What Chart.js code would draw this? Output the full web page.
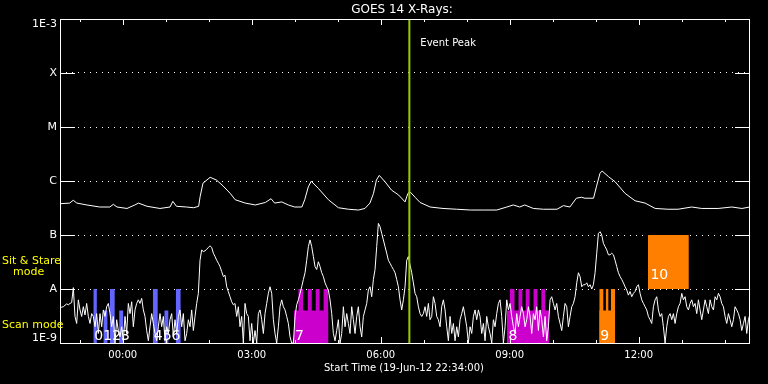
<!DOCTYPE html>
<html>
<head>
<meta charset="utf-8">
<title>GOES 14 X-Rays</title>
<script src="https://cdn.jsdelivr.net/npm/chart.js@4.4.1/dist/chart.umd.min.js"></script>
<style>
  html, body { margin: 0; padding: 0; background: #000; }
  #wrap { width: 768px; height: 384px; position: relative; }
</style>
</head>
<body>
<div id="wrap"><canvas id="goesChart"></canvas></div>
<script>
// ================================================================
// GOES 14 X-ray flux, 19/20-Jun-2012, with observation program bars
// ================================================================

/* ── DATA ───────────────────────────────────────────────────── */
const TITLE   = 'GOES 14 X-Rays:';
const X_TITLE = 'Start Time (19-Jun-12 22:34:00)';
const X_RANGE = ['22:32:30', '14:35:20'];

const yTickValues = [1e-9, 1e-8, 1e-7, 1e-6, 1e-5, 1e-4, 1e-3];
const yTickLabels = ['1E-9', 'A', 'B', 'C', 'M', 'X', '1E-3'];
const hourTicks   = ['23:00', '00:00', '01:00', '02:00', '03:00', '04:00', '05:00', '06:00',
                     '07:00', '08:00', '09:00', '10:00', '11:00', '12:00', '13:00', '14:00'];
const xTickLabels = ['00:00', '03:00', '06:00', '09:00', '12:00'];

// 1-8 A channel (W/m2)
const longTimes = [
  '22:33','22:46','22:51','22:56','23:10','23:28','23:42','23:47','23:52','00:06',
  '00:17','00:22','00:34','00:52','01:06','01:10','01:15','01:29','01:39','01:46',
  '01:48','01:52','02:02','02:11','02:20','02:30','02:37','02:51','03:05','03:19',
  '03:27','03:32','03:42','03:51','04:00','04:10','04:14','04:19','04:23','04:33',
  '04:47','05:01','05:15','05:29','05:38','05:45','05:50','05:54','05:58','06:06',
  '06:15','06:25','06:34','06:38','06:41','06:48','06:55','07:09','07:27','07:46',
  '08:05','08:23','08:42','08:56','09:05','09:14','09:21','09:33','09:47','10:06',
  '10:15','10:24','10:33','10:40','10:45','10:57','11:01','11:06','11:09','11:18',
  '11:27','11:41','11:55','12:09','12:23','12:41','12:55','13:14','13:28','13:51',
  '14:10','14:24','14:35'
];
const longFlux = [
  3.8e-7, 3.9e-7, 4.4e-7, 3.9e-7, 3.6e-7, 3.3e-7, 3.3e-7, 3.7e-7, 3.3e-7, 3.1e-7,
  3.6e-7, 3.9e-7, 3.4e-7, 3.1e-7, 3.3e-7, 4.2e-7, 3.4e-7, 3.3e-7, 3.2e-7, 3.4e-7,
  5.1e-7, 9.1e-7, 1.17e-6, 1.04e-6, 8.1e-7, 5.9e-7, 4.5e-7, 3.9e-7, 3.6e-7, 4.0e-7,
  4.7e-7, 3.9e-7, 4.1e-7, 3.6e-7, 3.3e-7, 3.3e-7, 4.5e-7, 7.8e-7, 9.9e-7, 7.3e-7,
  4.5e-7, 3.2e-7, 3.0e-7, 2.9e-7, 3.1e-7, 3.9e-7, 5.9e-7, 1.04e-6, 1.27e-6, 9.7e-7,
  6.8e-7, 5.5e-7, 4.1e-7, 5.9e-7, 6.3e-7, 5.0e-7, 4.0e-7, 3.3e-7, 3.1e-7, 3.0e-7,
  2.9e-7, 2.9e-7, 2.9e-7, 3.3e-7, 3.6e-7, 3.3e-7, 3.6e-7, 3.1e-7, 3.0e-7, 3.0e-7,
  3.5e-7, 3.3e-7, 4.8e-7, 5.0e-7, 4.8e-7, 4.8e-7, 7.8e-7, 1.39e-6, 1.53e-6, 1.2e-6,
  9.7e-7, 5.9e-7, 4.3e-7, 3.9e-7, 3.1e-7, 3.0e-7, 3.0e-7, 3.3e-7, 3.1e-7, 3.1e-7,
  3.3e-7, 3.1e-7, 3.3e-7
];

// 0.5-4 A channel, regular cadence, in units of 1E-9 W/m2
const shortStart = '22:32:30';
const shortCadenceMin = 2.326;
const shortNano = [
  4.4, 4.6, 4.7, 5.0, 5.3, 5.1, 5.4, 5.6, 10.6, 3.1,
  2.3, 6.3, 4.1, 3.1, 4.7, 3.3, 5.4, 3.1, 2.3, 3.5,
  3.1, 2.0, 3.5, 1.5, 3.5, 2.0, 4.1, 3.1, 4.7, 5.4,
  3.5, 2.0, 3.1, 1.0, 2.7, 1.7, 1.3, 2.0, 1.1, 3.1,
  1.5, 5.4, 3.5, 5.8, 2.0, 4.1, 5.4, 6.3, 5.4, 6.7,
  4.1, 3.1, 1.7, 1.1, 2.0, 3.5, 2.3, 1.5, 1.1, 2.0,
  3.5, 2.0, 3.1, 1.1, 2.0, 1.5, 2.7, 3.5, 1.3, 2.7,
  1.5, 3.1, 4.1, 2.0, 3.5, 1.1, 1.5, 2.7, 2.0, 4.1,
  1.7, 3.1, 5.4, 8.3, 34, 53, 49, 51, 54, 59,
  63, 59, 46, 40, 34, 30, 26, 21, 17, 18,
  11, 8.9, 7.2, 5.8, 5.1,
  5.4, 3.1, 4.7, 2.0, 3.1, 1.0, 5.4, 3.5, 3.1, 1.1,
  2.3, 1.0, 1.7, 1.0, 3.5, 4.1, 2.7, 1.5, 3.5, 5.4,
  8.3, 11, 8.3, 2.7, 1.5, 1.0, 2.0, 4.7, 6.3, 4.7,
  4.1, 3.1, 2.3, 1.3, 1.0, 1.0, 3.1, 5.1, 6.3, 8.3,
  11, 15, 20, 34, 61, 81, 61, 40, 26, 23,
  32, 26, 20, 17, 13, 11, 9.6, 6.3, 3.5, 1.5,
  1.1, 1.7, 2.7, 1.0, 1.5, 4.7, 2.0, 3.5, 2.3, 1.5,
  4.7, 2.7, 1.5, 3.1, 4.7, 2.0, 1.3, 3.1, 4.1, 5.4,
  9.6, 11, 7.2, 15, 23, 61, 164, 142, 107, 81,
  61, 46, 34, 30, 26, 23, 20, 15, 11, 6.3,
  4.1, 6.3, 11, 34, 40,
  28, 20, 13, 8.3, 7.2, 4.7, 3.5, 3.1, 3.5, 4.7,
  3.1, 5.4, 2.7, 3.1, 7.2, 5.4, 3.1, 2.7, 2.0, 4.7,
  6.3, 4.1, 2.0, 1.1, 3.1, 1.5, 2.3, 1.1, 2.0, 1.3,
  2.7, 3.5, 4.7, 3.1, 2.0, 1.0, 2.0, 1.5, 3.1, 4.1,
  2.7, 4.1, 3.1, 1.5, 2.3, 1.1, 3.1, 2.0, 1.5, 1.0,
  2.7, 2.0, 3.5, 5.4, 6.3, 3.1, 1.0, 2.0, 6.3, 4.1,
  5.4, 3.1, 2.0, 1.5, 3.5, 2.0, 3.1, 4.7, 3.5, 2.0,
  2.7, 4.7, 3.1, 1.5, 3.5, 2.7, 4.7, 1.7, 4.1, 2.7,
  1.3, 3.1, 1.1, 2.0, 6.3, 7.2, 5.4, 4.1, 5.4, 3.1,
  2.3, 1.7, 3.1, 5.4, 4.7, 2.0, 3.1, 4.7, 5.4, 7.2,
  13, 20, 17, 11, 12,
  12, 13, 11, 12, 10, 12, 20, 46, 107, 115,
  100, 70, 61, 53, 43, 43, 46, 43, 34, 26,
  20, 17, 15, 13, 11, 9.6, 7.7, 9.0, 7.2, 8.3,
  9.0, 11, 12, 8.3, 6.3, 5.4, 4.7, 4.1, 3.1, 2.7,
  2.3, 4.7, 6.3, 7.2, 4.1, 3.1, 3.5, 2.0, 1.0, 2.0,
  3.1, 3.5, 2.7, 3.5, 2.3, 3.5, 4.7, 5.4, 8.3, 6.3,
  7.2, 4.7, 4.1, 5.4, 6.3, 4.7, 5.4, 3.5, 6.3, 4.1,
  2.7, 4.1, 6.3, 4.7, 3.5, 6.3, 4.7, 4.1, 7.2, 6.3,
  8.3, 7.2, 5.4, 4.7, 3.1, 2.3, 3.5, 2.7, 2.0, 2.7,
  4.7, 4.1, 3.5, 2.7, 1.7, 2.3, 3.1, 1.5, 2.7, 3.5
];

// observation programs (scan mode below A, sit & stare A..B)
const obsSeq   = [0, 1, 2, 3, 4, 5, 6, 7, 7, 7, 7, 7, 8, 8, 8, 8, 8, 8, 9, 9, 9, 9, 10];
const obsStart = ['23:19','23:33','23:42','23:55','00:42','00:58','01:14',
                  '03:59','04:05','04:18','04:29','04:40',
                  '08:56','09:00','09:12','09:22','09:33','09:44',
                  '11:05','11:05','11:14','11:21',
                  '12:13'];
const obsEnd   = ['23:24','23:39','23:49','00:01','00:49','01:04','01:21',
                  '04:47','04:12','04:24','04:35','04:47',
                  '09:55','09:07','09:18','09:28','09:39','09:50',
                  '11:27','11:11','11:18','11:27',
                  '13:10'];
const obsTop   = [1e-8, 4e-9, 1e-8, 4e-9, 1e-8, 4e-9, 1e-8,
                  4e-9, 1e-8, 1e-8, 1e-8, 1e-8,
                  4e-9, 1e-8, 1e-8, 1e-8, 1e-8, 1e-8,
                  4e-9, 1e-8, 1e-8, 1e-8,
                  1e-7];
const obsBase  = [1e-9, 1e-9, 1e-9, 1e-9, 1e-9, 1e-9, 1e-9,
                  1e-9, 1e-9, 1e-9, 1e-9, 1e-9,
                  1e-9, 1e-9, 1e-9, 1e-9, 1e-9, 1e-9,
                  1e-9, 1e-9, 1e-9, 1e-9,
                  1e-8];

const obsLabels     = ['0123', '456', '7', '8', '9', '10'];
const obsLabelTimes = ['23:19', '00:42', '03:59', '08:57', '11:05', '12:15'];
const obsLabelFlux  = [1.15e-9, 1.15e-9, 1.15e-9, 1.15e-9, 1.15e-9, 1.56e-8];

const EVENT_PEAK  = '06:40';
const EVENT_LABEL = 'Event Peak';
const MODE_LABELS = ['Sit & Stare', 'mode', 'Scan mode'];

/* ── STYLE ──────────────────────────────────────────────────── */
const FONT   = '"DejaVu Sans", sans-serif';
const WHITE  = '#ffffff';
const YELLOW = '#ffff00';
const EVENT_COLOR = '#99cc00';

function obsColor(seq) {
  if (seq <= 6) return '#6464ff';
  if (seq <= 8) return '#cc00cc';
  return '#ff8000';
}

/* ── HELPERS ────────────────────────────────────────────────── */
function toHours(t) {
  const [h, m, s] = t.split(':').map(Number);
  const v = h + m / 60 + (s || 0) / 3600;
  return v >= 20 ? v - 24 : v;
}

const longPoints  = longTimes.map((t, i) => ({ x: toHours(t), y: longFlux[i] }));
const shortT0     = toHours(shortStart);
const shortPoints = shortNano.map((v, i) => ({ x: shortT0 + i * shortCadenceMin / 60, y: v * 1e-9 }));
const eventX      = toHours(EVENT_PEAK);

const obsDatasets = obsSeq.map((seq, i) => ({
  data: [{ x: toHours(obsStart[i]), y: obsTop[i] }, { x: toHours(obsEnd[i]), y: obsTop[i] }],
  borderWidth: 0,
  pointRadius: 0,
  backgroundColor: obsColor(seq),
  fill: obsBase[i] <= 1e-9 ? 'start' : { value: obsBase[i] },
}));

/* ── FRAME, TICKS & TEXT ────────────────────────────────────── */
const goesDecor = {
  id: 'goesDecor',
  afterDraw(chart) {
    const { ctx, chartArea: a, scales: { x, y } } = chart;
    ctx.save();
    ctx.strokeStyle = WHITE;
    ctx.lineWidth = 1;

    // frame
    ctx.strokeRect(a.left + 0.5, a.top + 0.5, a.right - a.left - 1, a.bottom - a.top);

    // solid decade ticks on left/right edges
    ctx.beginPath();
    yTickValues.forEach(v => {
      const py = Math.round(y.getPixelForValue(v)) + 0.5;
      ctx.moveTo(a.left, py);  ctx.lineTo(a.left + 15, py);
      ctx.moveTo(a.right - 15, py); ctx.lineTo(a.right, py);
    });
    // hour ticks, top and bottom
    hourTicks.forEach(t => {
      const h = toHours(t);
      const px = Math.round(x.getPixelForValue(h)) + 0.5;
      const len = xTickLabels.includes(t) ? 6 : 3;
      ctx.moveTo(px, a.top);    ctx.lineTo(px, a.top + len);
      ctx.moveTo(px, a.bottom); ctx.lineTo(px, a.bottom - len);
    });
    ctx.stroke();

    // end labels of the flux axis sit inside the frame
    ctx.fillStyle = WHITE;
    ctx.font = '11px ' + FONT;
    ctx.textAlign = 'right';
    ctx.textBaseline = 'top';
    ctx.fillText(yTickLabels[yTickLabels.length - 1], a.left - 3, a.top);
    ctx.textBaseline = 'bottom';
    ctx.fillText(yTickLabels[0], a.left - 3, a.bottom + 1);

    // titles
    ctx.textAlign = 'center';
    ctx.textBaseline = 'middle';
    ctx.font = '12px ' + FONT;
    ctx.fillText(TITLE, 402, 10);
    ctx.font = '10px ' + FONT;
    ctx.fillText(X_TITLE, 404, 368);

    // event peak label
    ctx.textAlign = 'left';
    ctx.fillText(EVENT_LABEL, x.getPixelForValue(eventX) + 11, 43);

    // observation labels
    ctx.textBaseline = 'alphabetic';
    ctx.font = '14px ' + FONT;
    obsLabels.forEach((txt, i) => {
      ctx.fillText(txt, x.getPixelForValue(toHours(obsLabelTimes[i])) + 1,
                   y.getPixelForValue(obsLabelFlux[i]));
    });

    // mode labels
    ctx.fillStyle = YELLOW;
    ctx.font = '11px ' + FONT;
    ctx.fillText(MODE_LABELS[0], 2, 264);
    ctx.fillText(MODE_LABELS[1], 13, 275);
    ctx.fillText(MODE_LABELS[2], 2, 328);
    ctx.restore();
  },
};

/* ── CHART ──────────────────────────────────────────────────── */
new Chart(document.getElementById('goesChart'), {
  type: 'line',
  data: {
    datasets: [
      {
        data: [{ x: eventX, y: 1e-9 }, { x: eventX, y: 1e-3 }],
        borderColor: EVENT_COLOR,
        borderWidth: 2,
        pointRadius: 0,
      },
      {
        data: longPoints,
        borderColor: WHITE,
        borderWidth: 1,
        pointRadius: 0,
      },
      {
        data: shortPoints,
        borderColor: WHITE,
        borderWidth: 1,
        pointRadius: 0,
      },
      ...obsDatasets,
    ],
  },
  options: {
    responsive: true,
    maintainAspectRatio: false,
    animation: false,
    events: [],
    layout: { padding: { top: 19, right: 18, left: 0, bottom: 0 } },
    plugins: {
      legend: { display: false },
      tooltip: { enabled: false },
    },
    scales: {
      x: {
        type: 'linear',
        position: 'bottom',
        min: toHours(X_RANGE[0]),
        max: toHours(X_RANGE[1]),
        afterBuildTicks: s => { s.ticks = hourTicks.map(t => ({ value: toHours(t) })); },
        afterFit: s => { s.height = 41; },
        grid: { display: false, drawTicks: false },
        border: { display: false },
        ticks: {
          autoSkip: false,
          maxRotation: 0,
          color: WHITE,
          padding: 6,
          font: { family: FONT, size: 10 },
          callback: v => {
            const t = hourTicks.find(h => Math.abs(toHours(h) - v) < 1e-6);
            return xTickLabels.includes(t) ? t : '';
          },
        },
      },
      y: {
        type: 'logarithmic',
        min: 1e-9,
        max: 1e-3,
        afterBuildTicks: s => { s.ticks = yTickValues.map(v => ({ value: v })); },
        afterFit: s => { s.width = 60; },
        grid: {
          drawTicks: false,
          color: c => (c.index === 0 || c.index === yTickValues.length - 1) ? 'rgba(0,0,0,0)' : WHITE,
          lineWidth: 1,
        },
        border: { display: false, dash: [1, 5] },
        ticks: {
          color: WHITE,
          padding: 3,
          font: { family: FONT, size: 11 },
          // first and last labels are drawn by goesDecor
          callback: (v, i) => (i === 0 || i === yTickValues.length - 1) ? '' : yTickLabels[i],
        },
      },
    },
  },
  plugins: [goesDecor],
});
</script>
</body>
</html>
